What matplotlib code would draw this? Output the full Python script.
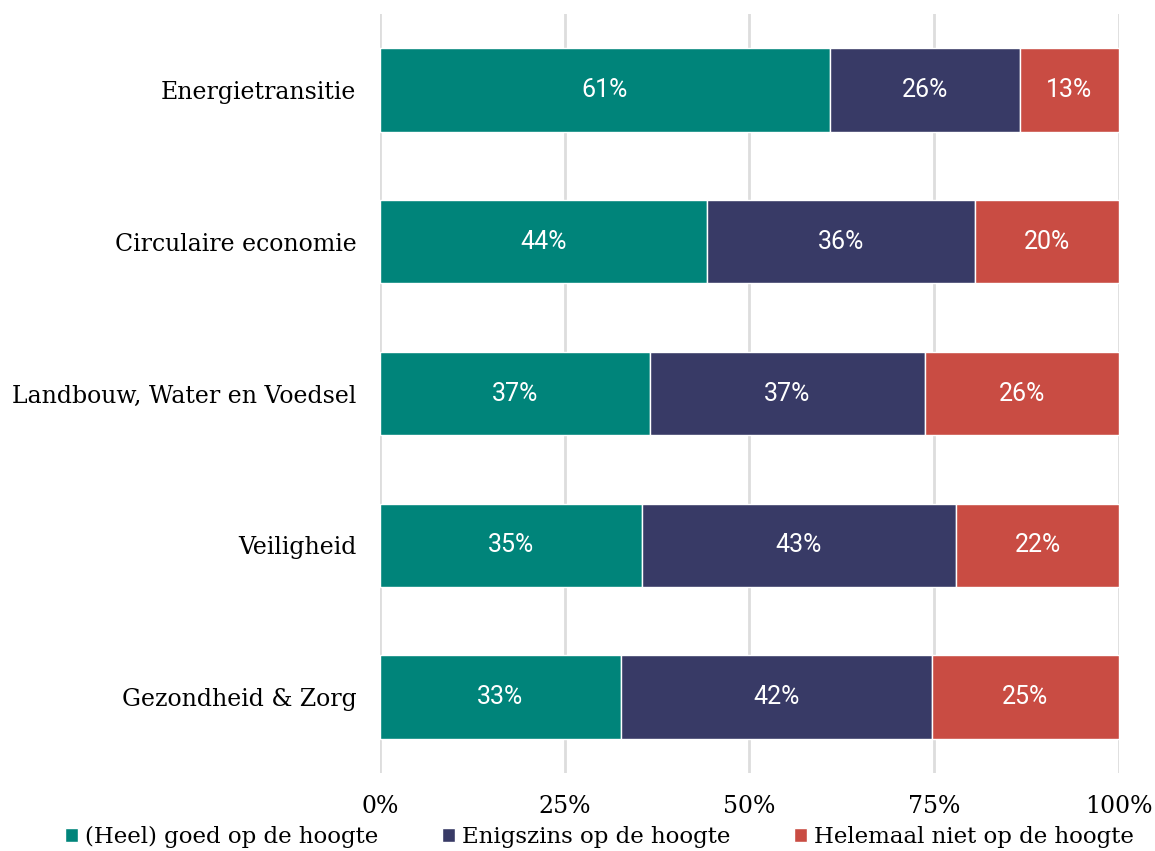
import matplotlib
matplotlib.use("Agg")
import matplotlib.pyplot as plt
import numpy as np

# =========================
# Data
# =========================
CATEGORIES = [
    "Energietransitie",
    "Circulaire economie",
    "Landbouw, Water en Voedsel",
    "Veiligheid",
    "Gezondheid & Zorg",
]
SERIES = [
    "(Heel) goed op de hoogte",
    "Enigszins op de hoogte",
    "Helemaal niet op de hoogte",
]
GOED = [60.9, 44.2, 36.6, 35.4, 32.6]
ENIGSZINS = [25.7, 36.3, 37.1, 42.6, 42.1]
NIET = [13.4, 19.5, 26.3, 22.0, 25.3]
TICKS = [0, 25, 50, 75, 100]
TICK_LABELS = ["0%", "25%", "50%", "75%", "100%"]

COLORS = ["#00847a", "#383a66", "#c94c43"]
SERIF = ["DejaVu Serif"]

fig = plt.figure(figsize=(11.55, 8.51), dpi=100)
ax = fig.add_axes([0.329, 0.0917, 0.6398, 0.8918])

y = np.arange(len(CATEGORIES))
left = np.zeros(len(CATEGORIES))
for name, vals, color in zip(SERIES, [GOED, ENIGSZINS, NIET], COLORS):
    vals = np.array(vals)
    ax.barh(y, vals, left=left, height=0.55, color=color, label=name,
            edgecolor="white", linewidth=1, zorder=3)
    for yi, l, v in zip(y, left, vals):
        ax.text(l + v / 2, yi, f"{v:.0f}%", ha="center", va="center",
                color="white", fontsize=18, family="Roboto", zorder=4)
    left += vals

ax.set_xlim(0, 100)
ax.set_ylim(4.5, -0.5)
ax.set_yticks(y)
ax.set_yticklabels(CATEGORIES, family=SERIF, fontsize=17)
ax.set_xticks(TICKS)
ax.set_xticklabels(TICK_LABELS, family=SERIF, fontsize=17)
ax.tick_params(axis="y", length=0, pad=17)
ax.tick_params(axis="x", length=0, pad=16)
ax.grid(axis="x", color="#dddddd", linewidth=2, zorder=0)
for s in ax.spines.values():
    s.set_visible(False)

fig.legend(loc="lower center", bbox_to_anchor=(0.519, -0.021), ncol=3,
           frameon=False, prop={"family": SERIF, "size": 16.5},
           handlelength=0.55, handleheight=0.55, handletextpad=0.3,
           columnspacing=2.8)

fig.savefig("out.png", dpi=100)
